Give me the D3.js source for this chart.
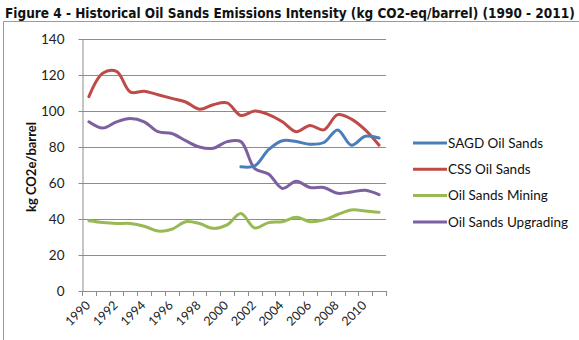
<!DOCTYPE html>
<html>
<head>
<meta charset="utf-8">
<script src="https://cdn.jsdelivr.net/npm/d3@7/dist/d3.min.js"></script>
<style>
  html, body { margin: 0; padding: 0; background: #fff; }
  svg { display: block; }
</style>
</head>
<body>
<svg id="chart" width="579" height="340"></svg>
<script>
// Emissions intensity by extraction method, kg CO2e per barrel
const years = d3.range(1990, 2012);
const sagd = [null, null, null, null, null, null, null, null, null, null, null,
  69, 69.5, 78.5, 83.5, 83, 81.5, 82.5, 89.5, 81, 86, 85];
const css = [108, 121, 122, 110.5, 111, 109, 107, 105, 101, 103.5, 104.5,
  97.5, 100, 98, 94, 88.5, 92, 89.5, 98, 95.5, 89.5, 81];
const mining = [39, 38, 37.5, 37.5, 36, 33.3, 34.3, 38.5, 37.5, 34.8, 36.7,
  43, 35, 38, 38.5, 41, 38.5, 39.5, 42.5, 45, 44.5, 43.7];
const upgrading = [94, 90.5, 94, 95.8, 94, 88.5, 87.5, 83.5, 80, 79.3, 83,
  83, 68, 65, 57, 61, 57.5, 57.5, 54.3, 55, 56, 53.5];
const yTicks = [0, 20, 40, 60, 80, 100, 120, 140];
const xTickLabels = years.filter(y => y % 2 === 0);

const series = [
  { name: "SAGD Oil Sands", values: sagd, color: "#4A7EBB" },
  { name: "CSS Oil Sands", values: css, color: "#BE4B48" },
  { name: "Oil Sands Mining", values: mining, color: "#98B954" },
  { name: "Oil Sands Upgrading", values: upgrading, color: "#7D60A0" }
];

const svg = d3.select("#chart");
const plot = { left: 82, right: 386, top: 39, bottom: 291 };

const x = d3.scaleBand().domain(years).range([plot.left, plot.right]).padding(0);
const y = d3.scaleLinear().domain([0, 140]).range([plot.bottom, plot.top]);
const cx = d => x(d) + x.bandwidth() / 2;

// outer frame (top and left edges of the chart box)
svg.append("path")
  .attr("d", "M3.5,345V21.5H585")
  .attr("fill", "none").attr("stroke", "#9a9a9a").attr("stroke-width", 1);

// title
const title = svg.append("text")
  .attr("x", 5).attr("y", 18)
  .attr("font-family", "'DejaVu Sans Condensed', 'DejaVu Sans', sans-serif")
  .attr("font-weight", "bold")
  .attr("font-size", 14)
  .attr("fill", "#111")
  .text("Figure 4 - Historical Oil Sands Emissions Intensity (kg CO2-eq/barrel) (1990 - 2011)");
const tw = title.node().getComputedTextLength();
title.attr("font-size", 14 * 570 / tw);

// horizontal gridlines
svg.append("g")
  .selectAll("line")
  .data(yTicks.filter(t => t > 0))
  .join("line")
  .attr("x1", plot.left).attr("x2", plot.right)
  .attr("y1", d => Math.round(y(d)) + 0.5).attr("y2", d => Math.round(y(d)) + 0.5)
  .attr("stroke", "#8c8c8c").attr("stroke-width", 1);

// y axis
const yAxis = svg.append("g")
  .attr("transform", `translate(${plot.left + 0.5},0)`)
  .call(d3.axisLeft(y).tickValues(yTicks).tickSize(4).tickPadding(14).tickSizeOuter(0));
yAxis.select(".domain").attr("stroke", "#8c8c8c");
yAxis.selectAll(".tick line").attr("stroke", "#8c8c8c");
yAxis.selectAll(".tick text")
  .attr("font-family", "Lato, 'Open Sans', sans-serif")
  .attr("font-size", 13.5)
  .attr("fill", "#222");

// x axis: baseline plus ticks on category boundaries
const xg = svg.append("g");
xg.append("line")
  .attr("x1", plot.left).attr("x2", plot.right)
  .attr("y1", Math.round(y(0)) + 0.5).attr("y2", Math.round(y(0)) + 0.5)
  .attr("stroke", "#8c8c8c");
xg.selectAll("line.tick")
  .data(years.map(d => x(d)).concat([x.range()[1]]))
  .join("line")
  .attr("class", "tick")
  .attr("x1", d => Math.round(d) + 0.5).attr("x2", d => Math.round(d) + 0.5)
  .attr("y1", Math.round(y(0))).attr("y2", Math.round(y(0)) + 5)
  .attr("stroke", "#8c8c8c");
xg.selectAll("text")
  .data(xTickLabels)
  .join("text")
  .attr("transform", d => `translate(${cx(d) - 1},${plot.bottom + 12}) rotate(-45)`)
  .attr("text-anchor", "end")
  .attr("dy", "0.35em")
  .attr("font-family", "Lato, 'Open Sans', sans-serif")
  .attr("font-size", 12.5)
  .attr("fill", "#222")
  .text(d => d);

// y axis title
svg.append("text")
  .attr("transform", `translate(36,167) rotate(-90)`)
  .attr("text-anchor", "middle")
  .attr("font-family", "Lato, 'Open Sans', sans-serif")
  .attr("font-weight", "bold")
  .attr("font-size", 13)
  .attr("fill", "#111")
  .text("kg CO2e/barrel");

// smoothed series lines
const line = d3.line()
  .defined(d => d.v != null)
  .x(d => cx(d.year))
  .y(d => y(d.v))
  .curve(d3.curveCatmullRom.alpha(0.5));

const drawOrder = [series[1], series[2], series[3], series[0]];
svg.append("g")
  .selectAll("path")
  .data(drawOrder)
  .join("path")
  .attr("d", s => line(years.map((yr, i) => ({ year: yr, v: s.values[i] }))))
  .attr("fill", "none")
  .attr("stroke", s => s.color)
  .attr("stroke-width", 3)
  .attr("stroke-linecap", "round")
  .attr("stroke-linejoin", "round");

// legend
const legend = svg.append("g")
  .selectAll("g")
  .data(series)
  .join("g")
  .attr("transform", (d, i) => `translate(413,${143 + i * 26.3})`);
legend.append("line")
  .attr("x1", 0).attr("x2", 34)
  .attr("stroke", d => d.color).attr("stroke-width", 3);
legend.append("text")
  .attr("x", 35).attr("dy", "0.35em")
  .attr("font-family", "Lato, 'Open Sans', sans-serif")
  .attr("font-size", 13.5)
  .attr("fill", "#111")
  .text(d => d.name);
</script>
</body>
</html>
